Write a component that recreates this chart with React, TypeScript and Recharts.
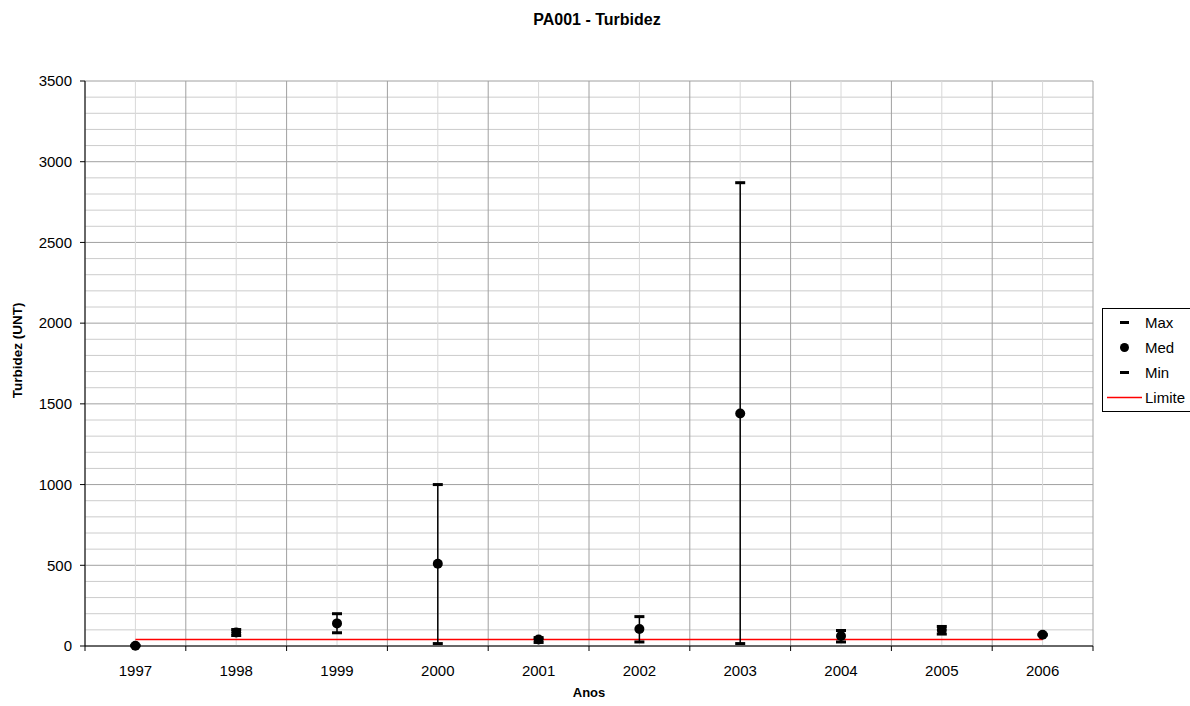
import React from "react";
import {
  ComposedChart,
  Scatter,
  Line,
  XAxis,
  YAxis,
  CartesianGrid,
  ReferenceLine,
  ErrorBar,
  Legend,
} from "recharts";

const years = [1997, 1998, 1999, 2000, 2001, 2002, 2003, 2004, 2005, 2006];
const maxValues = [4, 102, 200, 1000, 52, 182, 2870, 96, 121, 72];
const medValues = [2, 84, 140, 510, 40, 105, 1440, 62, 99, 70];
const minValues = [1, 65, 82, 15, 22, 25, 15, 25, 74, 68];
const limiteValues = [40, 40, 40, 40, 40, 40, 40, 40, 40, 40];
const yTicks = [0, 500, 1000, 1500, 2000, 2500, 3000, 3500];

const FONT = '"Liberation Sans", Arial, sans-serif';

// rows for the chart
const data = years.map((year, i) => ({
  year,
  max: maxValues[i],
  med: medValues[i],
  min: minValues[i],
  limite: limiteValues[i],
  err: [medValues[i] - minValues[i], maxValues[i] - medValues[i]],
}));

// category boundaries sit half a year either side of each label
const boundaries = [...years.map((y) => y - 0.5), years[years.length - 1] + 0.5];
const xTicks = [...boundaries, ...years].sort((a, b) => a - b);
const minorY: number[] = [];
for (let v = 100; v < 3500; v += 100) if (v % 500 !== 0) minorY.push(v);

function XTick(props: any) {
  const { x, y, payload } = props;
  const v = payload.value;
  if (Number.isInteger(v)) {
    return (
      <text x={x} y={y + 30} textAnchor="middle" fontSize={15} fontFamily={FONT} fill="#000">
        {v}
      </text>
    );
  }
  return <line x1={x} x2={x} y1={y} y2={y + 5} stroke="#000" strokeWidth={1} />;
}

const dash = (p: any) => <rect x={p.cx - 5} y={p.cy - 1.5} width={10} height={3} fill="#000" />;
const dot = (p: any) => <circle cx={p.cx} cy={p.cy} r={5} fill="#000" />;

const legendItems = [
  { name: "Max", kind: "dash" },
  { name: "Med", kind: "dot" },
  { name: "Min", kind: "dash" },
  { name: "Limite", kind: "line" },
];

function LegendBox() {
  return (
    <div
      style={{
        border: "1px solid #000",
        background: "#fff",
        fontFamily: FONT,
        fontSize: 15,
        paddingTop: 1,
        paddingBottom: 1,
      }}
    >
      {legendItems.map((it) => (
        <div key={it.name} style={{ display: "flex", alignItems: "center", height: 25 }}>
          <svg width={42} height={25}>
            {it.kind === "dash" && <rect x={17} y={11} width={9} height={3} fill="#000" />}
            {it.kind === "dot" && <circle cx={21.5} cy={12.5} r={4.5} fill="#000" />}
            {it.kind === "line" && <line x1={4} x2={39} y1={12.5} y2={12.5} stroke="#ff0000" strokeWidth={1.5} />}
          </svg>
          <span>{it.name}</span>
        </div>
      ))}
    </div>
  );
}

export default function App() {
  return (
    <div style={{ position: "absolute", left: 0, top: 0, width: 1190, height: 706, background: "#fff" }}>
      <div
        style={{
          position: "absolute",
          left: 0,
          width: 1194,
          top: 11,
          textAlign: "center",
          fontFamily: FONT,
          fontWeight: "bold",
          fontSize: 16,
        }}
      >
        PA001 - Turbidez
      </div>
      <ComposedChart
        width={1190}
        height={706}
        data={data}
        margin={{ top: 81, right: 97, bottom: 30, left: 20 }}
      >
        {minorY.map((v) => (
          <ReferenceLine key={"m" + v} y={v} stroke="#cccccc" strokeWidth={1} />
        ))}
        {years.map((y) => (
          <ReferenceLine key={"c" + y} x={y} stroke="#d8d8d8" strokeWidth={1} />
        ))}
        {boundaries.map((b) => (
          <ReferenceLine key={"b" + b} x={b} stroke="#a0a0a0" strokeWidth={1} />
        ))}
        <CartesianGrid vertical={false} stroke="#a0a0a0" strokeDasharray="" />
        <XAxis
          dataKey="year"
          type="number"
          domain={[boundaries[0], boundaries[boundaries.length - 1]]}
          ticks={xTicks}
          interval={0}
          height={30}
          tickSize={0}
          tickMargin={0}
          tickLine={false}
          axisLine={{ stroke: "#000" }}
          tick={<XTick />}
          label={{
            content: (p: any) => (
              <text
                x={p.viewBox.x + p.viewBox.width / 2}
                y={p.viewBox.y + 51}
                textAnchor="middle"
                fontFamily={FONT}
                fontWeight="bold"
                fontSize={13}
                fill="#000"
              >
                Anos
              </text>
            ),
          }}
        />
        <YAxis
          type="number"
          domain={[0, 3500]}
          ticks={yTicks}
          interval={0}
          width={65}
          tickSize={5}
          tickMargin={8}
          axisLine={{ stroke: "#000" }}
          tickLine={{ stroke: "#000" }}
          tick={{ fontSize: 15, fontFamily: FONT, fill: "#000" }}
          label={{
            content: (p: any) => {
              const cx = 17;
              const cy = p.viewBox.y + p.viewBox.height / 2 - 13;
              return (
                <text
                  x={cx}
                  y={cy}
                  transform={`rotate(-90 ${cx} ${cy})`}
                  textAnchor="middle"
                  dominantBaseline="central"
                  fontFamily={FONT}
                  fontWeight="bold"
                  fontSize={13.5}
                  fill="#000"
                >
                  Turbidez (UNT)
                </text>
              );
            },
          }}
        />
        <Line
          dataKey="limite"
          name="Limite"
          stroke="#ff0000"
          strokeWidth={1.5}
          dot={false}
          activeDot={false}
          isAnimationActive={false}
        />
        <Scatter dataKey="med" name="Med" shape={dot} isAnimationActive={false}>
          <ErrorBar dataKey="err" direction="y" width={0} stroke="#000" strokeWidth={1.5} isAnimationActive={false} />
        </Scatter>
        <Scatter dataKey="max" name="Max" shape={dash} isAnimationActive={false} />
        <Scatter dataKey="min" name="Min" shape={dash} isAnimationActive={false} />
        <Legend
          layout="horizontal"
          verticalAlign="middle"
          align="center"
          wrapperStyle={{ left: 1102, top: 308, width: 92 }}
          content={() => <LegendBox />}
        />
      </ComposedChart>
    </div>
  );
}
